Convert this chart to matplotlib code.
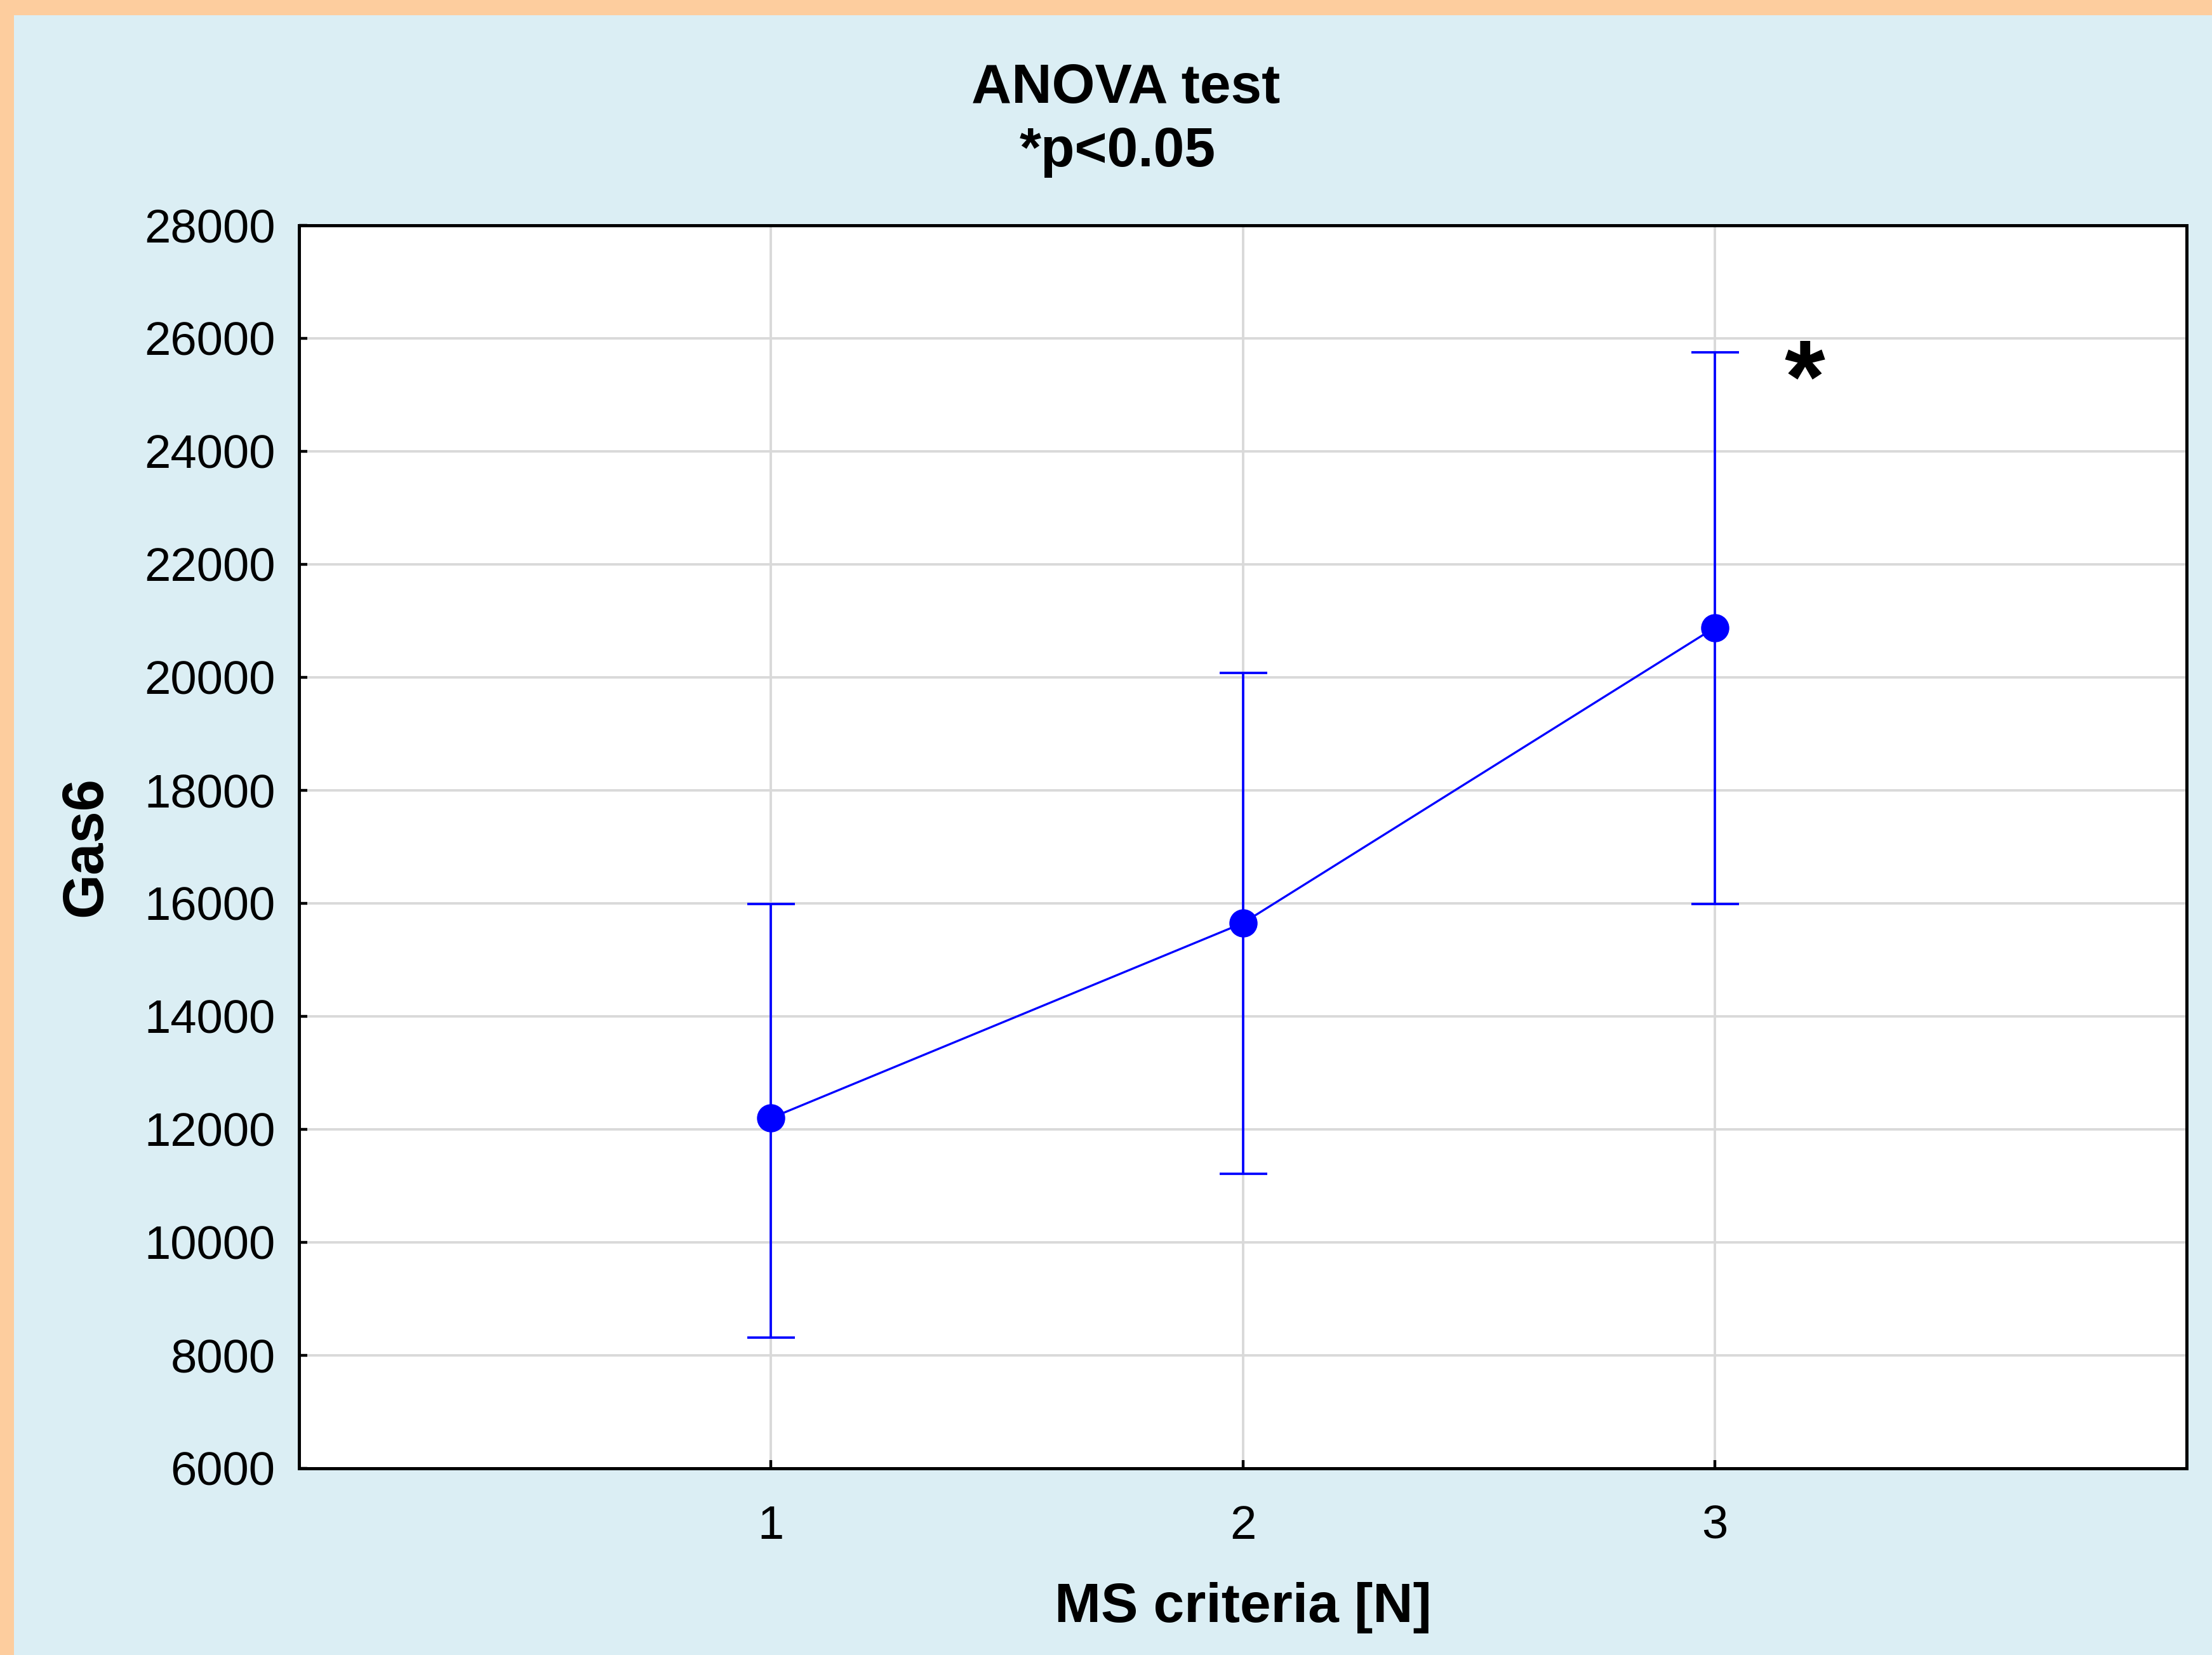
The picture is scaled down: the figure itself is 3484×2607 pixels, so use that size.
import matplotlib
matplotlib.use("Agg")
import matplotlib.pyplot as plt
from matplotlib.patches import Rectangle
import numpy as np

# ---- data ----
groups = [1, 2, 3]
means = [12200, 15650, 20880]
lower = [8320, 11210, 15990]
upper = [15990, 20080, 25750]
yticks = list(range(6000, 28001, 2000))
title_line1 = "ANOVA test"
title_line2 = "*p<0.05"
xlabel = "MS criteria [N]"
ylabel = "Gas6"

plt.rcParams['font.family'] = ['Liberation Sans', 'DejaVu Sans']

W, H = 3484, 2607
DPI = 100
fig = plt.figure(figsize=(W / DPI, H / DPI), dpi=DPI)
fig.patch.set_facecolor('#DBEEF4')

# orange frame (top and left)
fig.patches.append(Rectangle((0, 1 - 24 / H), 1, 24 / H, transform=fig.transFigure,
                             facecolor='#FDCD9E', edgecolor='none', zorder=0))
fig.patches.append(Rectangle((0, 0), 22 / W, 1, transform=fig.transFigure,
                             facecolor='#FDCD9E', edgecolor='none', zorder=0))

ax_l, ax_r, ax_t, ax_b = 471, 3444, 355, 2313
ax = fig.add_axes([ax_l / W, 1 - ax_b / H, (ax_r - ax_l) / W, (ax_b - ax_t) / H])
ax.set_facecolor('white')

m = np.array(means)
lo = np.array(lower)
up = np.array(upper)
ax.errorbar(groups, m, yerr=[m - lo, up - m], fmt='-o', color='#0000FF',
            ecolor='#0000FF', lw=2.4, elinewidth=2.7, capsize=27, capthick=2.7,
            markersize=31, zorder=3)

ax.set_xlim(0, 4)
ax.set_ylim(6000, 28000)
ax.set_xticks(groups)
ax.set_xticklabels([str(g) for g in groups])
ax.set_yticks(yticks)
ax.set_yticklabels([str(v) for v in yticks])
ax.grid(True, color='#D9D9D9', lw=2.8, zorder=0)
ax.set_axisbelow(True)

for s in ax.spines.values():
    s.set_linewidth(3.6)
    s.set_color('black')

ax.tick_params(axis='both', direction='in', length=9.5, width=3.2, labelsize=53.5,
               colors='black')
ax.tick_params(axis='y', pad=27)
ax.tick_params(axis='x', pad=41)

ax.set_xlabel(xlabel, fontsize=63, fontweight='bold')
ax.xaxis.label.set_verticalalignment('baseline')
ax.xaxis.set_label_coords(0.5, (ax_b - 2555) / (ax_b - ax_t))

ax.set_ylabel(ylabel, fontsize=65, fontweight='bold')
ax.yaxis.label.set_verticalalignment('center')
ax.yaxis.set_label_coords((136 - ax_l) / (ax_r - ax_l), 0.5)

# significance star
ax.text(3.19, 24700, '*', fontsize=118, fontweight='bold', ha='center',
        va='baseline', color='black')

# title
fig.text(1773 / W, 1 - 162 / H, title_line1, fontsize=63, fontweight='bold',
         ha='center', va='baseline')
fig.text(1760 / W, 1 - 262 / H, title_line2, fontsize=63, fontweight='bold',
         ha='center', va='baseline')

fig.savefig('out.png', dpi=DPI, facecolor=fig.get_facecolor())
